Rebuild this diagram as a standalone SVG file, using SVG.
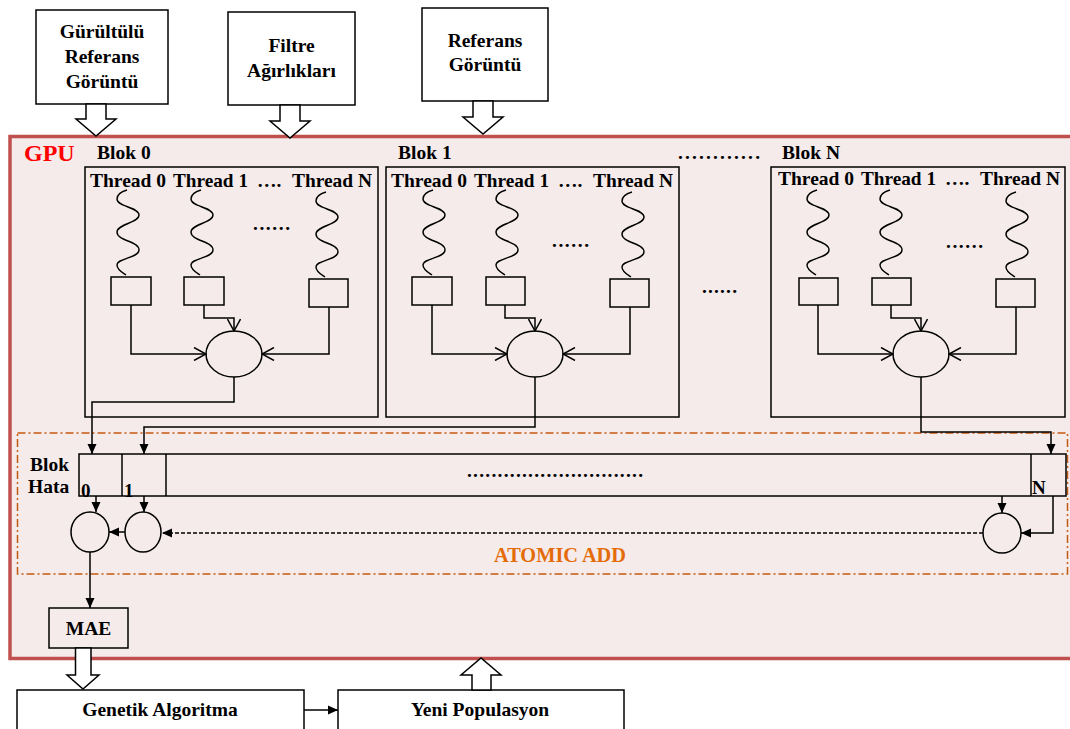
<svg xmlns="http://www.w3.org/2000/svg" width="1070" height="729" viewBox="0 0 1070 729">
<defs>
<style>
.t{font-family:"Liberation Serif","Times New Roman",serif;font-weight:bold;font-size:19.5px;fill:#000}
.m{text-anchor:middle}
.ln{fill:none;stroke:#000;stroke-width:1.5}
.wb{fill:#fff;stroke:#000;stroke-width:1.5}
.bx{fill:none;stroke:#000;stroke-width:1.5}
.sq{fill:none;stroke:#000;stroke-width:1.4}
.oa{fill:none;stroke:#000;stroke-width:1.5;marker-end:url(#oa)}
.fa{fill:none;stroke:#000;stroke-width:1.5;marker-end:url(#fa)}
</style>
<marker id="oa" viewBox="0 0 14 14" refX="13" refY="7" markerWidth="14" markerHeight="14" markerUnits="userSpaceOnUse" orient="auto"><path d="M1,0.5 L13,7 L1,13.5" fill="none" stroke="#000" stroke-width="1.5"/></marker>
<marker id="fa" viewBox="0 0 10 10" refX="10" refY="5" markerWidth="10" markerHeight="10" markerUnits="userSpaceOnUse" orient="auto"><path d="M0,0.5 L10,5 L0,9.5 z" fill="#000"/></marker>
<path id="sq" d="M-1,190 C-8,192 -11,195 -11,199 C-11,207 11,207 11,215 C11,223 -11,224 -11,232 C-11,241 11,241 11,250 C11,258 -11,258 -11,265 C-11,270 -5,273 -2,275"/>
</defs>

<g id="gpu">
<rect x="10" y="136.5" width="1075" height="522" fill="#f5ebeb" stroke="#c0504d" stroke-width="3.5"/>
<text x="24" y="161" style="font-family:'Liberation Serif',serif;font-weight:bold;font-size:24px;fill:#ff0000">GPU</text>
</g>

<g id="in1">
<rect class="wb" x="36" y="10" width="132" height="94"/>
<text class="t m" x="102" y="38">Gürültülü</text>
<text class="t m" x="102" y="63">Referans</text>
<text class="t m" x="102" y="88">Görüntü</text>
<polygon class="wb" points="86,104 106,104 106,119 116,119 96,136 76,119 86,119"/>
</g>
<g id="in2">
<rect class="wb" x="228" y="12" width="127" height="93"/>
<text class="t m" x="291.5" y="52">Filtre</text>
<text class="t m" x="291.5" y="77">Ağırlıkları</text>
<polygon class="wb" points="280,105 300,105 300,121 310,121 290,138 270,121 280,121"/>
</g>
<g id="in3">
<rect class="wb" x="422" y="8" width="126" height="93"/>
<text class="t m" x="485" y="47">Referans</text>
<text class="t m" x="485" y="71">Görüntü</text>
<polygon class="wb" points="473,101 493,101 493,117 503,117 483,134 463,117 473,117"/>
</g>

<g id="labels">
<text class="t" x="97" y="159">Blok 0</text>
<text class="t" x="398" y="159">Blok 1</text>
<text class="t" x="678" y="159" textLength="82" lengthAdjust="spacing">............</text>
<text class="t" x="782" y="159">Blok N</text>
<text class="t" x="702" y="293" textLength="35" lengthAdjust="spacing">......</text>
</g>

<g id="blok0">
<rect class="bx" x="85" y="167" width="293" height="250"/>
<text class="t" x="90" y="187" textLength="76" lengthAdjust="spacingAndGlyphs">Thread 0</text>
<text class="t" x="173" y="187" textLength="75" lengthAdjust="spacingAndGlyphs">Thread 1</text>
<text class="t" x="257" y="187">….</text>
<text class="t" x="292" y="187" textLength="80" lengthAdjust="spacingAndGlyphs">Thread N</text>
<use href="#sq" class="sq" x="128"/>
<use href="#sq" class="sq" x="202"/>
<use href="#sq" class="sq" x="327" y="2"/>
<text class="t" x="253" y="230" textLength="37" lengthAdjust="spacing">......</text>
<rect class="bx" x="111" y="277" width="40" height="28"/>
<rect class="bx" x="184" y="277" width="40" height="28"/>
<rect class="bx" x="309" y="279" width="39" height="28"/>
<ellipse class="bx" cx="234" cy="354" rx="28" ry="23"/>
</g>

<g id="blok1">
<rect class="bx" x="386" y="167" width="293" height="250"/>
<text class="t" x="391" y="187" textLength="76" lengthAdjust="spacingAndGlyphs">Thread 0</text>
<text class="t" x="474" y="187" textLength="75" lengthAdjust="spacingAndGlyphs">Thread 1</text>
<text class="t" x="558" y="187">….</text>
<text class="t" x="593" y="187" textLength="80" lengthAdjust="spacingAndGlyphs">Thread N</text>
<use href="#sq" class="sq" x="434"/>
<use href="#sq" class="sq" x="507"/>
<use href="#sq" class="sq" x="633" y="2"/>
<text class="t" x="552" y="247" textLength="37" lengthAdjust="spacing">......</text>
<rect class="bx" x="412" y="277" width="40" height="28"/>
<rect class="bx" x="486" y="277" width="39" height="28"/>
<rect class="bx" x="610" y="279" width="39" height="28"/>
<ellipse class="bx" cx="535" cy="354" rx="28" ry="23"/>
</g>

<g id="blokN">
<rect class="bx" x="771" y="167" width="294" height="250"/>
<text class="t" x="778" y="185" textLength="76" lengthAdjust="spacingAndGlyphs">Thread 0</text>
<text class="t" x="861" y="185" textLength="75" lengthAdjust="spacingAndGlyphs">Thread 1</text>
<text class="t" x="945" y="185">….</text>
<text class="t" x="980" y="185" textLength="80" lengthAdjust="spacingAndGlyphs">Thread N</text>
<use href="#sq" class="sq" x="818"/>
<use href="#sq" class="sq" x="891"/>
<use href="#sq" class="sq" x="1017" y="2"/>
<text class="t" x="946" y="248" textLength="37" lengthAdjust="spacing">......</text>
<rect class="bx" x="799" y="278" width="39" height="27"/>
<rect class="bx" x="872" y="278" width="39" height="27"/>
<rect class="bx" x="996" y="279" width="39" height="28"/>
<ellipse class="bx" cx="921" cy="354" rx="28" ry="23"/>
</g>

<g id="atomic">
<rect x="17.5" y="433" width="1050" height="141" fill="none" stroke="#c55a11" stroke-width="1.5" stroke-dasharray="8 3 2 3"/>
<text x="494" y="562" textLength="132" lengthAdjust="spacingAndGlyphs" style="font-family:'Liberation Serif',serif;font-weight:bold;font-size:20.5px;fill:#e36c09">ATOMIC ADD</text>
</g>

<g id="blokhata">
<text class="t" x="30" y="471">Blok</text>
<text class="t" x="28" y="493">Hata</text>
<rect class="bx" x="79" y="454" width="987" height="42"/>
<line class="ln" x1="122" y1="454" x2="122" y2="496"/>
<line class="ln" x1="166" y1="454" x2="166" y2="496"/>
<line class="ln" x1="1031" y1="454" x2="1031" y2="496"/>
<text class="t" x="81" y="497" style="font-size:19px">0</text>
<text class="t" x="124" y="497" style="font-size:19px">1</text>
<text class="t" x="1032" y="494" style="font-size:19px">N</text>
<text class="t" x="467" y="477" textLength="176" lengthAdjust="spacing">.............................</text>
</g>

<g id="adders">
<ellipse class="bx" cx="90" cy="532" rx="19" ry="20"/>
<ellipse class="bx" cx="143" cy="532" rx="18" ry="20"/>
<ellipse class="bx" cx="1002" cy="533" rx="19" ry="20"/>
</g>

<g id="mae">
<rect class="bx" x="49" y="608" width="79" height="40"/>
<text class="t m" x="88.5" y="635">MAE</text>
<polygon class="wb" points="75.5,648 91,648 91,675 99,675 83,689 67,675 75.5,675"/>
</g>

<g id="ga">
<rect class="wb" x="17" y="690" width="287" height="60"/>
<text class="t m" x="160" y="716">Genetik Algoritma</text>
</g>
<g id="yeni">
<rect class="wb" x="338" y="690" width="286" height="60"/>
<text class="t m" x="480" y="716">Yeni Populasyon</text>
<polygon class="wb" points="472,690 491,690 491,675 501,675 481,658 461,675 472,675"/>
</g>

<g id="connectors">
<path class="oa" d="M131,305 V354 H206"/>
<path class="oa" d="M204,305 V318 H234 V331"/>
<path class="oa" d="M329,307 V354 H262"/>
<path class="oa" d="M432,305 V354 H507"/>
<path class="oa" d="M505,305 V318 H535 V331"/>
<path class="oa" d="M630,307 V354 H563"/>
<path class="oa" d="M818,305 V354 H893"/>
<path class="oa" d="M891,305 V318 H921 V331"/>
<path class="oa" d="M1016,307 V354 H949"/>
<path class="fa" d="M234,377 V402 H92 V454"/>
<path class="fa" d="M535,377 V427 H144 V454"/>
<path class="fa" d="M921,377 V432 H1051 V454"/>
<path class="fa" d="M96,496 V512"/>
<path class="fa" d="M144,496 V512"/>
<path class="fa" d="M1002,496 V513"/>
<path class="fa" d="M1053,496 V533 H1021"/>
<path class="fa" d="M983,533 H162" stroke-dasharray="4 2"/>
<path class="fa" d="M125,532 H109"/>
<path class="fa" d="M90,552 V608"/>
<path class="fa" d="M304,710 H338"/>
</g>
</svg>
